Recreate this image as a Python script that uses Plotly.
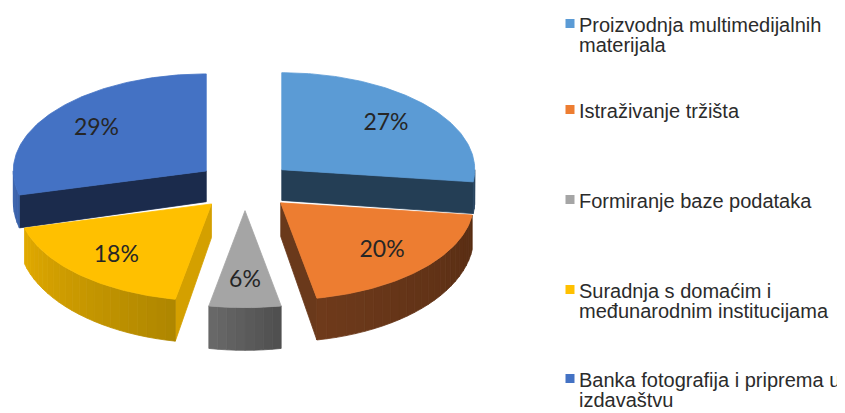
import numpy as np
import plotly.graph_objects as go

# ---------------- data ----------------
categories = [
    "Proizvodnja multimedijalnih materijala",
    "Istraživanje tržišta",
    "Formiranje baze podataka",
    "Suradnja s domaćim i međunarodnim institucijama",
    "Banka fotografija i priprema u izdavaštvu",
]
values = [27, 20, 6, 18, 29]
legend_lines = [
    ["Proizvodnja multimedijalnih", "materijala"],
    ["Istraživanje tržišta"],
    ["Formiranje baze podataka"],
    ["Suradnja s domaćim i", "međunarodnim institucijama"],
    ["Banka fotografija i priprema u", "izdavaštvu"],
]

# ---------------- styles ----------------
top_colors = ["#5B9BD5", "#ED7D31", "#A5A5A5", "#FFC000", "#4472C4"]
rim_light = ["#2D4B66", "#6E3A1B", "#6A6A6A", "#E2AA00", "#3E66B0"]
rim_dark = ["#243E55", "#582D13", "#4E4E4E", "#AE8600", "#3A61A8"]
face_colors = ["#243E55", "#6A391B", "#5A5A5A", "#D4A000", "#1B2B4C"]

W, H = 845, 413
PAGE_OFF = 8  # default page body margin; axes mapped so data units == page pixels
CX, CY = 245.0, 186.0
RX, RY = 193.0, 97.0
EXPLODE = 49.0
LABEL_R = 0.72


def depth(y):
    return 32.0 + 0.087 * (y - 185.0)


def hex2rgb(h):
    h = h.lstrip("#")
    return [int(h[i:i + 2], 16) for i in (0, 2, 4)]


def mix(c1, c2, t):
    a, b = hex2rgb(c1), hex2rgb(c2)
    return "rgb(%d,%d,%d)" % tuple(round(a[i] + (b[i] - a[i]) * t) for i in range(3))


total = float(sum(values))
bounds = np.concatenate([[0.0], np.cumsum(values) / total * 360.0])

slices = []
for i, v in enumerate(values):
    a0, a1 = bounds[i], bounds[i + 1]
    mid = np.radians((a0 + a1) / 2)
    cx = CX + EXPLODE * np.sin(mid)
    cy = CY - EXPLODE * np.cos(mid) * RY / RX
    slices.append(dict(i=i, a0=a0, a1=a1, mid=mid, cx=cx, cy=cy))


def rim_pt(s, a):
    r = np.radians(a)
    return s["cx"] + RX * np.sin(r), s["cy"] - RY * np.cos(r)


fig = go.Figure()


def poly(xs, ys, color):
    fig.add_trace(go.Scatter(
        x=list(xs) + [xs[0]], y=list(ys) + [ys[0]], mode="lines", fill="toself",
        fillcolor=color, line=dict(color=color, width=0.8),
        hoverinfo="skip", showlegend=False))


order = [4, 0, 3, 1, 2]  # back to front
for idx in order:
    s = slices[idx]
    a0, a1 = s["a0"], s["a1"]
    cx, cy = s["cx"], s["cy"]
    # radial cut faces
    for a, nrm in ((a0, a0 - 90), (a1, a1 + 90)):
        if np.cos(np.radians(nrm)) < -1e-6:
            px, py = rim_pt(s, a)
            xs = [cx, px, px, cx]
            ys = [cy, py, py + depth(py), cy + depth(cy)]
            poly(xs, ys, face_colors[idx])
    # outer rim (front half only)
    lo, hi = max(a0, 90.0), min(a1, 270.0)
    if hi > lo:
        n = max(1, int(np.ceil((hi - lo) / 3.0)))
        edges = np.linspace(lo, hi, n + 1)
        for k in range(n):
            angs = np.linspace(edges[k], edges[k + 1], 4)
            tx, ty = zip(*[rim_pt(s, a) for a in angs])
            bx = [x for x in tx][::-1]
            by = [y + depth(y) for y in ty][::-1]
            t = (k + 0.5) / n
            poly(list(tx) + bx, list(ty) + by, mix(rim_dark[idx], rim_light[idx], t))
    # top face
    angs = np.linspace(a0, a1, max(3, int((a1 - a0)) + 2))
    px, py = zip(*[rim_pt(s, a) for a in angs])
    poly([cx] + list(px), [cy] + list(py), top_colors[idx])

# slice labels
lx = [s["cx"] + LABEL_R * RX * np.sin(s["mid"]) for s in slices]
ly = [s["cy"] - LABEL_R * RY * np.cos(s["mid"]) + 1 for s in slices]
fig.add_trace(go.Scatter(
    x=lx, y=ly, mode="text", text=["%d%%" % round(v / total * 100) for v in values],
    textfont=dict(family="Lato", size=23, color="#262626"),
    hoverinfo="skip", showlegend=False))

# legend (squares + text)
first_line_y = [24.5, 110.5, 200.5, 290.5, 379.5]
LINE_GAP = 20.5
fig.add_trace(go.Scatter(
    x=[570] * len(categories), y=[y - 1 for y in first_line_y], mode="markers",
    marker=dict(symbol="square", size=9, color=top_colors),
    hoverinfo="skip", showlegend=False))
annotations = []
for lines, y0 in zip(legend_lines, first_line_y):
    for j, line in enumerate(lines):
        annotations.append(dict(
            x=577, y=y0 + j * LINE_GAP, xref="x", yref="y", text=line,
            showarrow=False, xanchor="left", yanchor="middle",
            font=dict(family="Liberation Sans, Arial", size=20, color="#2B2B2B")))

fig.update_layout(
    width=W, height=H, autosize=False,
    margin=dict(l=0, r=0, t=0, b=0),
    paper_bgcolor="white", plot_bgcolor="white",
    xaxis=dict(range=[PAGE_OFF, W + PAGE_OFF], visible=False, fixedrange=True),
    yaxis=dict(range=[H + PAGE_OFF, PAGE_OFF], visible=False, fixedrange=True),
    annotations=annotations,
    showlegend=False,
)

fig.write_html("out.html")
